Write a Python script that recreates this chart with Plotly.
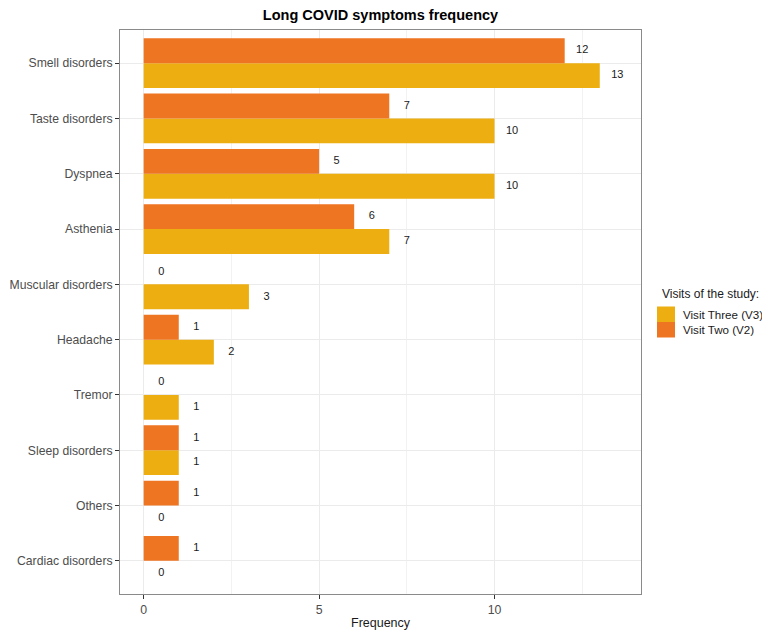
import plotly.graph_objects as go

# Symptoms, listed top to bottom as displayed
symptoms = [
    "Smell disorders", "Taste disorders", "Dyspnea", "Asthenia",
    "Muscular disorders", "Headache", "Tremor", "Sleep disorders",
    "Others", "Cardiac disorders",
]
visit_two = [12, 7, 5, 6, 0, 1, 0, 1, 1, 1]
visit_three = [13, 10, 10, 7, 3, 2, 1, 1, 0, 0]

series_names = ["Visit Three (V3)", "Visit Two (V2)"]
series_colors = ["#EDAE11", "#EE7522"]

n = len(symptoms)
pos = [n - 1 - i for i in range(n)]   # top item gets the highest y position
half = 0.225                          # half of the dodge width (0.9 / 2 / 2)
label_shift = 0.5                     # value labels sit just past the bar end

fig = go.Figure()

for vals, name, color, side in [
    (visit_three, series_names[0], series_colors[0], -1),
    (visit_two, series_names[1], series_colors[1], +1),
]:
    ys = [p + side * half for p in pos]
    fig.add_trace(go.Bar(
        x=vals, y=ys, orientation="h", width=2 * half,
        name=name, marker=dict(color=color, line=dict(width=0)),
        showlegend=False, hoverinfo="x+name",
    ))
    fig.add_trace(go.Scatter(
        x=[v + label_shift for v in vals], y=ys, mode="text",
        text=[str(v) for v in vals], textposition="middle center",
        textfont=dict(family="Liberation Sans, Arial, sans-serif", size=11, color="#1A1A1A"),
        showlegend=False, hoverinfo="skip",
    ))

# Legend drawn beside the panel
pw, ph = 521, 564
legend_x0 = 1.0 + (657 - 641) / pw
key_w = 18 / pw
key_h = 15.5 / ph
leg_top = 1 - (306.5 - 30) / ph
annotations = [
    dict(text="Visits of the study:", x=1.0 + (660 - 641) / pw, y=1 - (293.5 - 30) / ph,
         xref="paper", yref="paper", xanchor="left", yanchor="middle",
         showarrow=False, font=dict(size=12, color="#1A1A1A")),
]
shapes = []
for k, (name, color) in enumerate(zip(series_names, series_colors)):
    top = leg_top - k * key_h
    shapes.append(dict(type="rect", xref="paper", yref="paper",
                       x0=legend_x0, x1=legend_x0 + key_w, y0=top - key_h, y1=top,
                       fillcolor=color, line=dict(width=0)))
    annotations.append(dict(text=name, x=1.0 + (681 - 641) / pw, y=top - key_h / 2,
                            xref="paper", yref="paper", xanchor="left", yanchor="middle",
                            showarrow=False, font=dict(size=11.6, color="#1A1A1A")))

annotations.append(dict(text="Frequency", x=0.5, y=-(622.5 - 594) / ph,
                        xref="paper", yref="paper", xanchor="center", yanchor="middle",
                        showarrow=False, font=dict(size=12.5, color="#1A1A1A")))

fig.update_layout(
    width=762, height=631,
    margin=dict(l=120, r=121, t=30, b=37, autoexpand=False),
    paper_bgcolor="white", plot_bgcolor="white",
    font=dict(family="Liberation Sans, Arial, sans-serif", size=12, color="#4D4D4D"),
    title=dict(text="<b>Long COVID symptoms frequency</b>", x=0.5, xref="paper",
               y=1 - 15 / 631, yref="container", yanchor="middle", xanchor="center",
               font=dict(size=14.5, color="#000000")),
    barmode="overlay",
    showlegend=False,
    shapes=shapes,
    annotations=annotations,
)

fig.update_xaxes(
    range=[-0.675, 14.175], tick0=0, dtick=5, zeroline=False, automargin=False,
    showgrid=True, gridcolor="#EBEBEB", gridwidth=1,
    minor=dict(dtick=2.5, showgrid=True, gridcolor="#F2F2F2", gridwidth=0.6),
    ticks="outside", ticklen=4, tickcolor="#333333",
    showline=True, linecolor="#8A8A8A", linewidth=1, mirror=True,
    tickfont=dict(size=12.3, color="#4D4D4D"),
)
fig.update_yaxes(
    range=[-0.6, n - 1 + 0.6], tickvals=pos, ticktext=symptoms, zeroline=False,
    automargin=False,
    showgrid=True, gridcolor="#EBEBEB", gridwidth=1,
    ticks="outside", ticklen=4, tickcolor="#333333",
    showline=True, linecolor="#8A8A8A", linewidth=1, mirror=True,
    tickfont=dict(size=12.2, color="#4D4D4D"),
)

fig.write_html("out.html")
